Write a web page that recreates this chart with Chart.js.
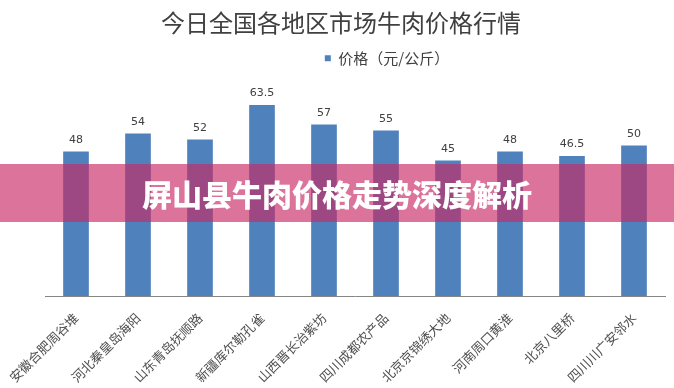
<!DOCTYPE html>
<html>
<head>
<meta charset="utf-8">
<script src="https://cdn.jsdelivr.net/npm/chart.js@4.4.1/dist/chart.umd.min.js"></script>
<style>
  html, body { margin: 0; padding: 0; background: #ffffff; }
  #wrap { position: relative; width: 674px; height: 388px; overflow: hidden; }
  #banner {
    position: absolute; left: 0; top: 164px; width: 674px; height: 58px;
    background: rgba(200, 40, 100, 0.65);
    color: #ffffff; font-family: "Noto Sans CJK SC", sans-serif; font-weight: 900;
    font-size: 30px; line-height: 58px; text-align: center;
  }
</style>
</head>
<body>
<div id="wrap">
  <canvas id="c" width="674" height="388"></canvas>
  <div id="banner">屏山县牛肉价格走势深度解析</div>
</div>
<script>
const categories = ["安徽合肥周谷堆", "河北秦皇岛海阳", "山东青岛抚顺路", "新疆库尔勒孔雀", "山西晋长治紫坊", "四川成都农产品", "北京京锦绣大地", "河南周口黄淮", "北京八里桥", "四川川广安邻水"];
const prices = [48, 54, 52, 63.5, 57, 55, 45, 48, 46.5, 50];
const seriesName = "价格（元/公斤）";
const chartTitle = "今日全国各地区市场牛肉价格行情";
const yMax = 70;

const valueLabels = {
  id: 'valueLabels',
  afterDatasetsDraw(chart) {
    const ctx = chart.ctx;
    const meta = chart.getDatasetMeta(0);
    ctx.save();
    ctx.font = '11px "DejaVu Sans", sans-serif';
    ctx.fillStyle = '#404040';
    ctx.textAlign = 'center';
    ctx.textBaseline = 'alphabetic';
    meta.data.forEach((bar, i) => {
      ctx.fillText(String(chart.data.datasets[0].data[i]), bar.x, bar.y - 9);
    });
    ctx.restore();
  }
};

// shift the title and legend boxes horizontally to match the reference placement
const headerShift = {
  id: 'headerShift',
  afterLayout(chart) {
    if (chart.titleBlock) { chart.titleBlock.left -= 14; chart.titleBlock.right -= 14; }
    if (chart.legend) { chart.legend.left += 32; chart.legend.right += 32; }
  }
};

new Chart(document.getElementById('c'), {
  type: 'bar',
  data: {
    labels: categories,
    datasets: [{
      label: seriesName,
      data: prices,
      backgroundColor: '#4F81BD',
      borderWidth: 0,
      barThickness: 25
    }]
  },
  options: {
    responsive: false,
    devicePixelRatio: 1,
    animation: false,
    layout: { padding: { left: 45, right: 9, top: 0, bottom: 0 } },
    plugins: {
      title: {
        display: true,
        text: chartTitle,
        color: '#404040',
        font: { family: '"Noto Sans CJK SC", sans-serif', size: 24, weight: 'normal' },
        padding: { top: 8, bottom: 4 }
      },
      legend: {
        display: true,
        position: 'top',
        labels: {
          color: '#404040',
          font: { family: '"Noto Sans CJK SC", sans-serif', size: 15 },
          boxWidth: 6, boxHeight: 6, padding: 10
        }
      },
      tooltip: { enabled: false }
    },
    scales: {
      x: {
        grid: { display: false },
        border: { display: true, color: '#868686', width: 1 },
        ticks: {
          color: '#505050',
          font: { family: '"Noto Sans CJK SC", sans-serif', size: 13 },
          maxRotation: 45, minRotation: 45, padding: 6, autoSkip: false
        },
        afterFit(s) { s.height = 92; }
      },
      spacer: {
        type: 'category',
        position: 'top',
        grid: { display: false },
        border: { display: false },
        ticks: { display: false },
        afterFit(s) { s.height = 10; }
      },
      y: {
        display: false,
        min: 0, max: yMax
      }
    }
  },
  plugins: [valueLabels, headerShift]
});
</script>
</body>
</html>
